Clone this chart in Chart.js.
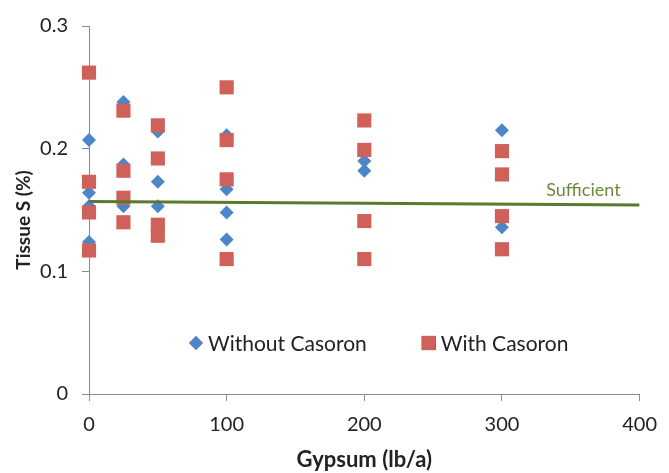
<!DOCTYPE html>
<html>
<head>
<meta charset="utf-8">
<script src="https://cdn.jsdelivr.net/npm/chart.js@4"></script>
<style>
  html, body { margin: 0; padding: 0; background: #fff; }
  #wrap { width: 669px; height: 473px; }
</style>
</head>
<body>
<div id="wrap"><canvas id="c"></canvas></div>
<script>
"use strict";

// Tissue S vs gypsum rate, with / without Casoron, plus the "sufficient" line.

// ---------- data ----------
const withoutX = [0, 0, 0, 0, 25, 25, 25, 50, 50, 50, 100, 100, 100, 100, 200, 200, 200, 300, 300];
const withoutY = [0.207, 0.164, 0.153, 0.124, 0.238, 0.187, 0.153, 0.214, 0.173, 0.153,
                  0.211, 0.167, 0.148, 0.126, 0.190, 0.182, 0.141, 0.215, 0.136];
const withX = [0, 0, 0, 0, 25, 25, 25, 25, 50, 50, 50, 50, 100, 100, 100, 100,
               200, 200, 200, 200, 300, 300, 300, 300];
const withY = [0.262, 0.173, 0.148, 0.117, 0.231, 0.182, 0.160, 0.140, 0.219, 0.192, 0.138, 0.129,
               0.250, 0.207, 0.175, 0.110, 0.223, 0.199, 0.141, 0.110, 0.198, 0.179, 0.145, 0.118];
const sufficientX = [0, 400];
const sufficientY = [0.157, 0.154];
const seriesNames = ["Without Casoron", "With Casoron"];
const sufficientLabel = "Sufficient";
const xTitle = "Gypsum (lb/a)";
const yTitle = "Tissue S (%)";

const BLUE = "#4a86c8", RED = "#d0605a", GREEN = "#587a2c", LABELGREEN = "#6a8a3e";
const AXIS = "#8a8a8a", TEXT = "#222";
const FONT = "Lato, 'Open Sans', sans-serif";

const pts = (xs, ys) => xs.map((x, i) => ({ x, y: ys[i] }));

// legend drawn inside the plot area, like the original
const innerLegend = {
  id: "innerLegend",
  afterDraw(chart) {
    const { ctx, chartArea } = chart;
    const y = chartArea.bottom - 51;
    let x = chartArea.left + 107;
    ctx.save();
    ctx.font = "21px " + FONT;
    ctx.textBaseline = "middle";
    [0, 1].forEach(i => {
      const ds = chart.data.datasets[i];
      Chart.helpers.drawPoint(ctx, {
        pointStyle: ds.pointStyle, radius: ds.pointRadius,
        borderWidth: 0, rotation: 0
      }, x, y);
      ctx.fillStyle = ds.backgroundColor;
      ctx.fill();
      ctx.fillStyle = TEXT;
      ctx.fillText(seriesNames[i], x + 12, y + 1);
      x += 12 + ctx.measureText(seriesNames[i]).width + 62;
    });
    ctx.restore();
  }
};

// "Sufficient" tag above the right end of the line, and the y title
// (sits a little below the plot centre in the original)
const labels = {
  id: "labels",
  afterDraw(chart) {
    const { ctx, scales, chartArea } = chart;
    const px = scales.x.getPixelForValue(sufficientX[1]) - 19;
    const py = scales.y.getPixelForValue(sufficientY[1]) - 6;
    ctx.save();
    ctx.font = "18px " + FONT;
    ctx.fillStyle = LABELGREEN;
    ctx.textAlign = "right";
    ctx.textBaseline = "bottom";
    ctx.fillText(sufficientLabel, px, py);

    ctx.translate(24, (chartArea.top + chartArea.bottom) / 2 + 10);
    ctx.rotate(-Math.PI / 2);
    ctx.font = "bold 19px " + FONT;
    ctx.fillStyle = TEXT;
    ctx.textAlign = "center";
    ctx.textBaseline = "middle";
    ctx.fillText(yTitle, 0, 0);
    ctx.restore();
  }
};

const axisBase = {
  border: { color: AXIS, width: 1 },
  grid: { display: true, drawOnChartArea: false, drawTicks: true, tickLength: 7, color: AXIS },
};

new Chart(document.getElementById("c"), {
  type: "scatter",
  data: {
    datasets: [
      { label: seriesNames[0], data: pts(withoutX, withoutY), pointStyle: "rectRot",
        pointRadius: 7, backgroundColor: BLUE, borderColor: BLUE, borderWidth: 0, order: 2, clip: false },
      { label: seriesNames[1], data: pts(withX, withY), pointStyle: "rect",
        pointRadius: 10, backgroundColor: RED, borderColor: RED, borderWidth: 0, order: 1, clip: false },
      { type: "line", label: sufficientLabel, data: pts(sufficientX, sufficientY),
        borderColor: GREEN, borderWidth: 3, pointRadius: 0, fill: false, order: 0 },
    ]
  },
  options: {
    responsive: true, maintainAspectRatio: false, animation: false, events: [],
    layout: { padding: { top: 19, right: 28, left: 0, bottom: 0 } },
    plugins: { legend: { display: false }, tooltip: { enabled: false } },
    scales: {
      x: {
        ...axisBase, type: "linear", min: 0, max: 400,
        ticks: { stepSize: 100, color: TEXT, font: { family: FONT, size: 20 }, padding: 12, maxRotation: 0 },
        title: { display: true, text: xTitle, color: TEXT,
                 font: { family: FONT, size: 22, weight: "bold" }, padding: { top: 0, bottom: 0 } },
        afterFit: s => { s.height = 79; },
      },
      y: {
        ...axisBase, min: 0, max: 0.3,
        ticks: { stepSize: 0.1, color: TEXT, font: { family: FONT, size: 20 }, padding: 14,
                 callback: v => String(+v.toFixed(1)) },
        title: { display: false },
        afterFit: s => { s.width = 89; },
      },
    },
  },
  plugins: [innerLegend, labels],
});
</script>
</body>
</html>
